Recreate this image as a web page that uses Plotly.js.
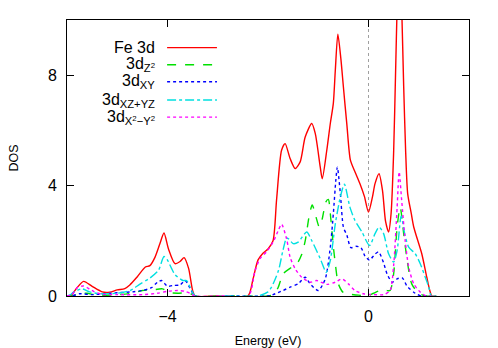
<!DOCTYPE html>
<html>
<head>
<meta charset="utf-8">
<script src="https://cdn.plot.ly/plotly-3.0.1.min.js"></script>
<style>
  body { margin: 0; background: #fff; }
  #dos { width: 498px; height: 348px; }
</style>
</head>
<body>
<div id="dos"></div>
<script>
// values (energy in eV, DOS)
var fe_e = [-6.0, -5.93, -5.8, -5.67, -5.5, -5.3, -5.15, -5.0, -4.85, -4.75, -4.6, -4.44, -4.35, -4.25, -4.15, -4.07, -3.98, -3.85, -3.75, -3.67, -3.58, -3.5, -3.45,
  -3.0, -2.4, -2.3, -2.2, -2.1, -2.0, -1.9, -1.83, -1.73, -1.66, -1.56, -1.46, -1.36, -1.26, -1.13, -1.06, -0.96, -0.92, -0.83, -0.76, -0.7, -0.66, -0.61, -0.55, -0.5, -0.43, -0.36, -0.27, -0.17, -0.08, 0.0, 0.08, 0.13, 0.21, 0.28, 0.34, 0.4, 0.45, 0.5, 0.54, 0.57, 0.615, 0.66, 0.7, 0.74, 0.78, 0.85, 0.9, 1.06, 1.16, 1.22, 1.26, 1.35];
var fe_dos = [0, 0, 0.3, 0.53, 0.35, 0.15, 0.14, 0.22, 0.27, 0.4, 0.7, 1.05, 1.1, 1.4, 1.9, 2.28, 1.7, 1.17, 1.25, 1.39, 1.0, 0.2, 0,
  0, 0, 0.6, 1.3, 1.55, 1.7, 2.0, 3.47, 5.28, 5.52, 4.98, 4.62, 4.86, 5.76, 6.25, 5.89, 4.67, 4.25, 5.28, 6.25, 6.98, 8.19, 9.49, 8.6, 7.58, 6.2, 4.92, 4.5, 4.07, 3.6, 3.04, 3.6, 4.07, 4.43, 3.8, 2.7, 2.32, 3.0, 5.2, 8.2, 10.5, 13, 10.5, 7.6, 5.2, 3.7, 3.0, 2.5, 1.53, 0.68, 0.2, 0, 0];

var z2_e = [-6.0, -5.9, -5.75, -5.6, -5.4, -5.0, -4.7, -4.5, -4.3, -4.1, -3.95, -3.8, -3.6, -3.5, -3.45,
  -2.7, -2.0, -1.9, -1.8, -1.7, -1.56, -1.43, -1.33, -1.26, -1.18, -1.12, -1.05, -0.98, -0.92, -0.85, -0.8, -0.75, -0.7, -0.66, -0.6, -0.5, -0.43, -0.2, 0.0, 0.1, 0.23, 0.35, 0.43, 0.5, 0.57, 0.63, 0.7, 0.77, 0.86, 1.0, 1.15, 1.25];
var z2_dos = [0, 0, 0.1, 0.1, 0.03, 0.05, 0.1, 0.2, 0.22, 0.26, 0.12, 0.1, 0.12, 0.05, 0,
  0, 0, 0.05, 0.3, 0.8, 1.0, 1.15, 1.5, 2.0, 2.9, 3.3, 2.9, 2.5, 2.8, 3.4, 3.5, 2.8, 1.8, 1.17, 0.44, 0.12, 0.08, 0.03, 0.02, 0.1, 0.2, 0.2, 0.2, 0.8, 2.5, 3.22, 2.26, 1.29, 0.44, 0.1, 0, 0];

var xy_e = [-6.0, -5.9, -5.75, -5.5, -5.0, -4.7, -4.5, -4.32, -4.2, -4.12, -4.0, -3.9, -3.75, -3.65, -3.55, -3.45,
  -2.7, -2.0, -1.9, -1.7, -1.56, -1.4, -1.26, -1.16, -1.0, -0.86, -0.76, -0.7, -0.65, -0.62, -0.56, -0.5, -0.43, -0.35, -0.25, -0.15, -0.07, 0.02, 0.12, 0.2, 0.3, 0.37, 0.47, 0.57, 0.67, 0.77, 0.93, 1.05, 1.15];
var xy_dos = [0, 0, 0.08, 0.05, 0.12, 0.15, 0.2, 0.3, 0.5, 0.56, 0.35, 0.38, 0.4, 0.56, 0.28, 0,
  0, 0, 0.05, 0.2, 0.32, 0.44, 0.68, 0.44, 0.2, 0.62, 1.77, 2.98, 4.2, 4.67, 3.71, 2.5, 2.2, 1.75, 1.8, 1.75, 1.45, 1.3, 1.5, 1.6, 1.2, 0.8, 0.5, 0.62, 0.66, 0.35, 0.1, 0, 0];

var xzyz_e = [-6.0, -5.93, -5.87, -5.7, -5.55, -5.34, -5.0, -4.74, -4.54, -4.35, -4.18, -4.07, -4.0, -3.92, -3.85, -3.69, -3.62, -3.52, -3.45,
  -2.8, -2.2, -2.0, -1.93, -1.79, -1.71, -1.63, -1.59, -1.5, -1.4, -1.23, -1.13, -0.96, -0.84, -0.76, -0.66, -0.56, -0.48, -0.37, -0.27, -0.13, 0.02, 0.13, 0.21, 0.3, 0.4, 0.5, 0.57, 0.65, 0.72, 0.8, 0.93, 1.03, 1.13, 1.2, 1.25, 1.35];
var xzyz_dos = [0, 0.05, 0.14, 0.26, 0.15, 0.08, 0.1, 0.2, 0.44, 0.65, 0.93, 1.43, 1.3, 1.0, 0.77, 0.56, 0.56, 0.2, 0,
  0, 0, 0.15, 0.32, 0.93, 1.59, 2.1, 2.07, 1.9, 1.95, 2.32, 2.01, 1.35, 0.86, 1.29, 2.62, 3.59, 4.05, 3.22, 2.74, 2.32, 1.83, 2.26, 2.5, 2.26, 1.53, 1.23, 1.65, 2.9, 2.26, 1.77, 1.53, 1.17, 0.68, 0.32, 0, 0];

var x2y2_e = [-6.0, -5.9, -5.8, -5.67, -5.55, -5.47, -5.3, -5.0, -4.5, -4.2, -4.0, -3.8, -3.65, -3.55, -3.45,
  -2.9, -2.39, -2.26, -2.16, -2.03, -1.9, -1.8, -1.73, -1.63, -1.56, -1.46, -1.33, -1.16, -1.03, -0.83, -0.66, -0.53, -0.4, -0.27, -0.1, 0.1, 0.3, 0.43, 0.5, 0.57, 0.61, 0.66, 0.73, 0.8, 0.9, 1.03, 1.15, 1.25];
var x2y2_dos = [0, 0.05, 0.3, 0.36, 0.25, 0.17, 0.06, 0.05, 0.05, 0.1, 0.17, 0.2, 0.17, 0.1, 0,
  0, 0, 0.9, 1.35, 1.6, 1.95, 2.35, 2.6, 2.07, 1.41, 0.99, 0.68, 0.5, 0.56, 0.42, 0.5, 0.62, 0.44, 0.2, 0.08, 0.05, 0.05, 0.2, 1.1, 3.22, 4.5, 3.47, 2.01, 1.05, 0.44, 0.14, 0, 0];

var names = ['Fe 3d', '3d<sub>Z<sup>2</sup></sub>', '3d<sub>XY</sub>', '3d<sub>XZ+YZ</sub>', '3d<sub>X<sup>2</sup>\u2212Y<sup>2</sup></sub>'];
var colors = ['#ff0000', '#00e000', '#0000ff', '#00e0e0', '#ff00ff'];
var dashes = ['solid', 'dash', 'dot', 'dashdot', 'dot'];
var xs = [fe_e, z2_e, xy_e, xzyz_e, x2y2_e];
var ys = [fe_dos, z2_dos, xy_dos, xzyz_dos, x2y2_dos];

var fnt = 'Liberation Sans, Arial, sans-serif';

var data = [];
for (let i = 0; i < xs.length; i++) {
  data.push({
    x: xs[i], y: ys[i], type: 'scatter', mode: 'lines',
    line: {color: colors[i], width: 1.4, dash: dashes[i], shape: 'spline', smoothing: 0.7},
    showlegend: false, hoverinfo: 'skip'
  });
}

// gnuplot style key: text right aligned, sample line to the right
var annotations = [];
var shapes = [{
  type: 'line', xref: 'x', yref: 'paper', x0: 0, x1: 0, y0: 0, y1: 1,
  line: {color: '#a0a0a0', width: 1, dash: 'dot'}, layer: 'below'
}];
let rowY = [0.9, 0.838, 0.776, 0.71, 0.648];
for (let i = 0; i < names.length; i++) {
  annotations.push({
    xref: 'paper', yref: 'paper', x: 0.224, y: rowY[i], xanchor: 'right', yanchor: 'middle',
    text: names[i], showarrow: false, font: {family: fnt, size: 16, color: '#000'}
  });
  shapes.push({
    type: 'line', xref: 'paper', yref: 'paper', x0: 0.249, x1: 0.373, y0: rowY[i], y1: rowY[i],
    line: {color: colors[i], width: 1.4, dash: dashes[i]}
  });
}

var layout = {
  width: 498, height: 348,
  margin: {l: 67, r: 29, t: 20, b: 52},
  paper_bgcolor: '#fff', plot_bgcolor: '#fff',
  showlegend: false,
  font: {family: fnt, size: 16, color: '#000'},
  xaxis: {
    range: [-6, 2], tick0: 0, dtick: 4, ticks: 'inside', ticklen: 7, tickwidth: 1, tickcolor: '#000',
    showline: true, linecolor: '#000', linewidth: 1, mirror: 'allticks',
    showgrid: false, zeroline: false, ticklabelstandoff: 6,
    tickfont: {family: fnt, size: 16},
    title: {text: 'Energy (eV)', font: {family: fnt, size: 12.5}, standoff: 12}
  },
  yaxis: {
    range: [0, 10], tick0: 0, dtick: 4, ticks: 'inside', ticklen: 7, tickwidth: 1, tickcolor: '#000',
    showline: true, linecolor: '#000', linewidth: 1, mirror: 'allticks',
    showgrid: false, zeroline: false, ticklabelstandoff: 6,
    tickfont: {family: fnt, size: 16},
    title: {text: 'DOS', font: {family: fnt, size: 12.5}, standoff: 26}
  },
  annotations: annotations,
  shapes: shapes
};

Plotly.newPlot('dos', data, layout, {staticPlot: true, displayModeBar: false});
</script>
</body>
</html>
